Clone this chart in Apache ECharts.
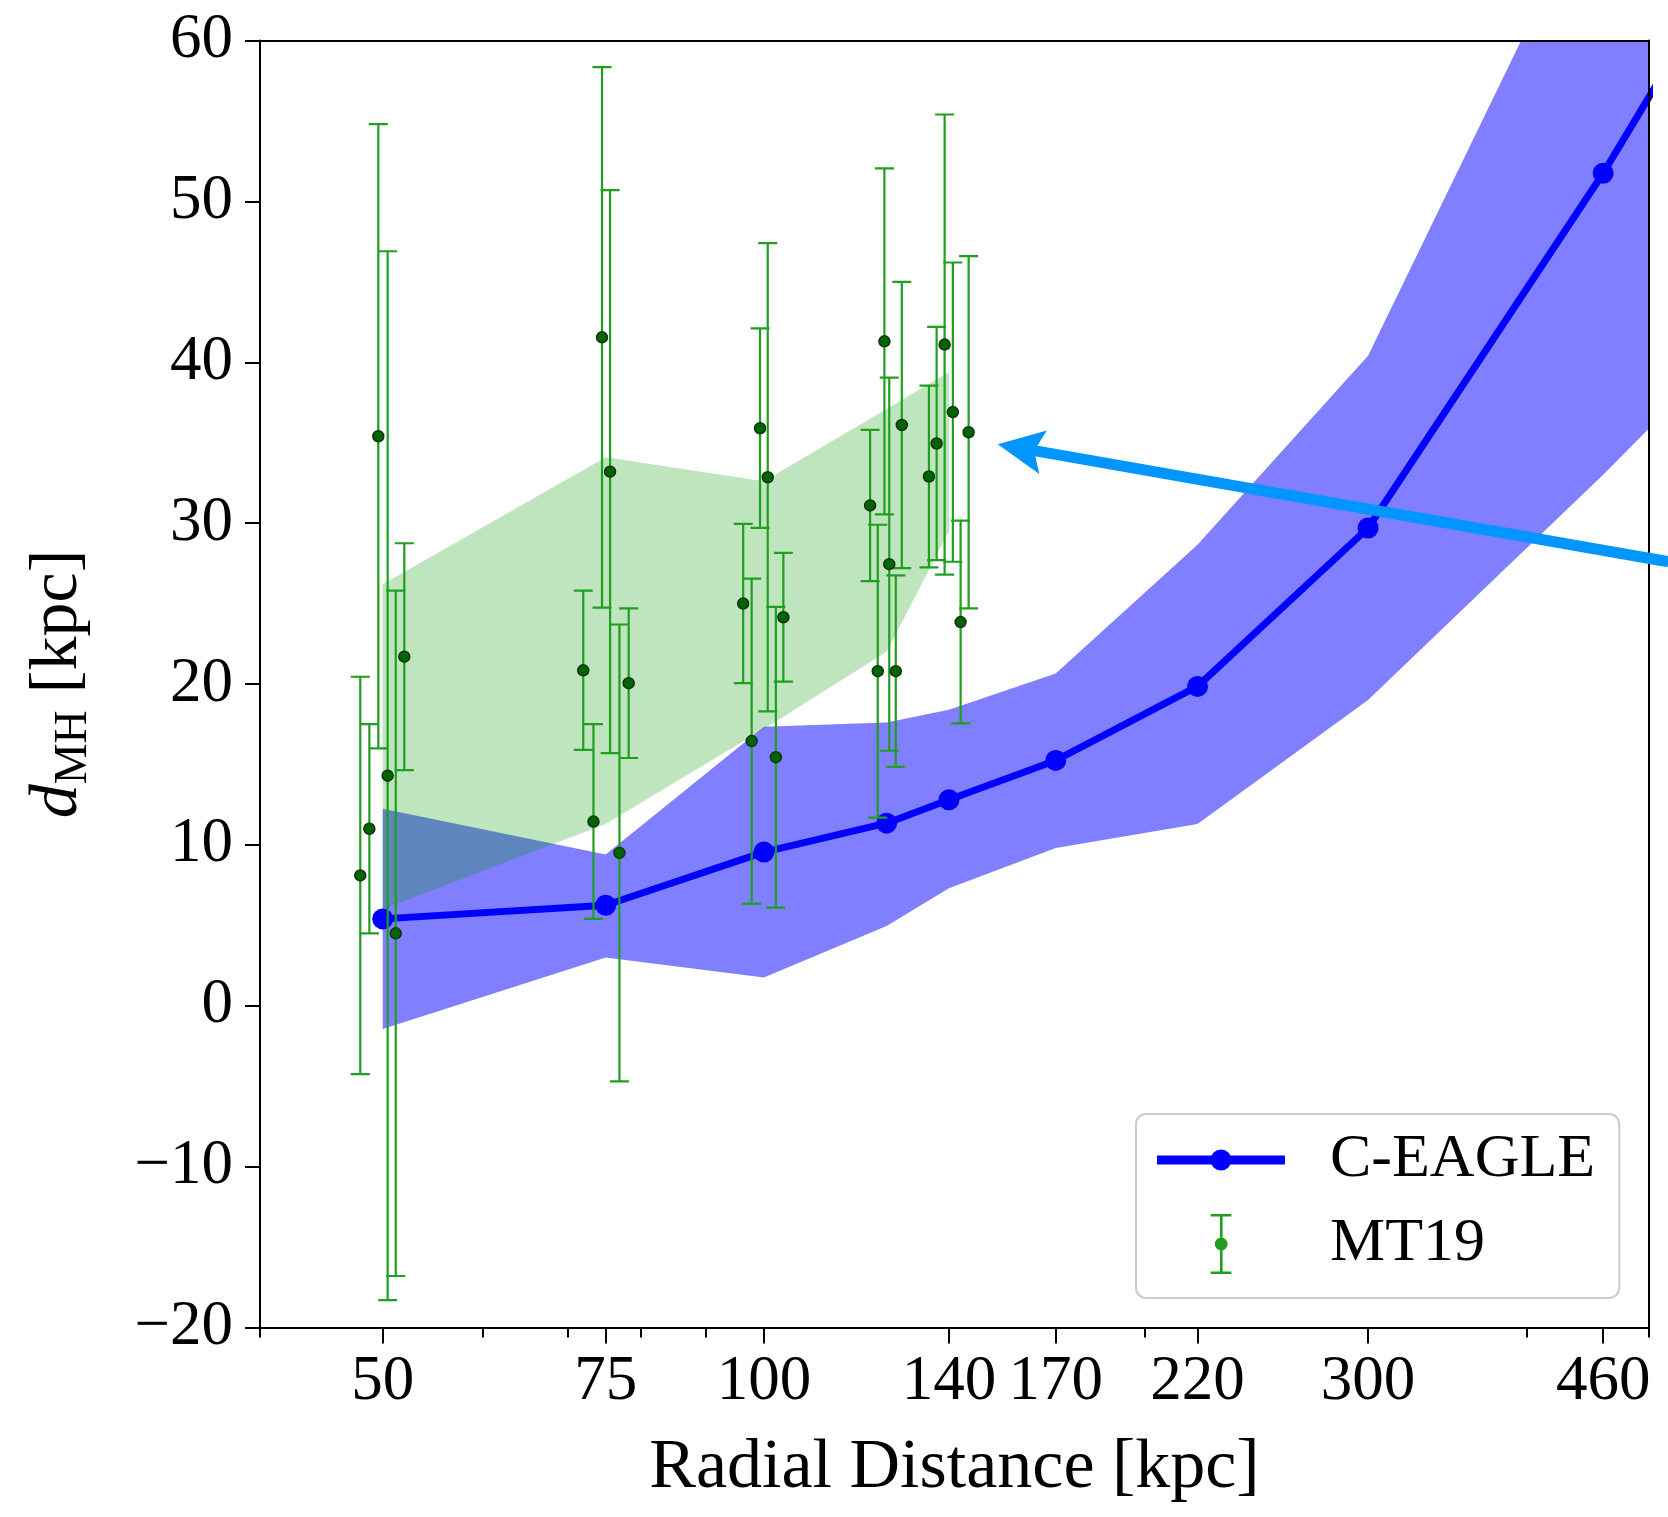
<!DOCTYPE html>
<html><head><meta charset="utf-8">
<script src="https://cdn.jsdelivr.net/npm/echarts@6/dist/echarts.min.js"></script>
<style>html,body{margin:0;padding:0;background:#fff}#c{width:1668px;height:1517px}</style>
</head><body><div id="c"></div>
<script>
// ---- axis ticks ----
const xTickLabels = [50, 75, 100, 140, 170, 220, 300, 460];
const xMinorTicks = [40, 60, 70, 80, 90, 200, 400, 500];
const yTicks = [-20, -10, 0, 10, 20, 30, 40, 50, 60];

// ---- C-EAGLE median line and band ----
const eagleX    = [50, 75, 100, 125, 140, 170, 220, 300, 460, 700];
const eagleY    = [5.4, 6.25, 9.55, 11.35, 12.8, 15.25, 19.85, 29.7, 51.75, 75.6];
const eagleLow  = [-1.45, 3.0, 1.75, 4.95, 7.3, 9.8, 11.3, 19.0, 33.0, 47.5];
const eagleHigh = [12.25, 9.4, 17.35, 17.6, 18.4, 20.65, 28.65, 40.4, 70.5, 100];

// ---- MT19 band ----
const mtBandX    = [50, 75, 100, 125, 140];
const mtBandLow  = [6.0, 11.3, 17.2, 22.0, 29.5];
const mtBandHigh = [26.2, 34.1, 32.6, 37.1, 39.4];

// ---- MT19 points with error bars ----
const mtX   = [48.0, 48.8, 49.6, 50.45, 51.2, 52.0, 72.0, 73.35, 74.5, 75.6, 76.9, 78.2, 96.3, 97.8, 99.3, 100.7, 102.2, 103.6, 121.3, 123.0, 124.5, 125.6, 127.1, 128.5, 135.0, 136.9, 138.9, 141.0, 143.0, 145.1];
const mtY   = [8.1, 11.0, 35.4, 14.3, 4.5, 21.7, 20.85, 11.45, 41.55, 33.2, 9.5, 20.05, 25.0, 16.45, 35.9, 32.85, 15.45, 24.15, 31.1, 20.8, 41.3, 27.45, 20.8, 36.1, 32.9, 34.95, 41.1, 36.9, 23.85, 35.65];
const mtErr = [12.35, 6.5, 19.4, 32.6, 21.3, 7.05, 4.95, 6.05, 16.8, 17.5, 14.2, 4.65, 4.95, 10.1, 6.2, 14.55, 9.35, 4.0, 4.7, 9.1, 10.75, 11.6, 5.95, 8.9, 5.65, 7.25, 14.3, 9.3, 6.3, 10.95];

// ---- annotation arrow (data coordinates) ----
const arrowTail = [518, 27.6];
const arrowHead = [153, 34.9];

const FONT = 'Liberation Serif';
const chart = echarts.init(document.getElementById('c'), null, {renderer: 'canvas'});

function bandRenderer(xs, lows, highs, fill) {
  return function (params, api) {
    if (params.dataIndex !== 0) return null;
    const pts = [];
    for (let i = 0; i < xs.length; i++) pts.push(api.coord([xs[i], highs[i]]));
    for (let i = xs.length - 1; i >= 0; i--) pts.push(api.coord([xs[i], lows[i]]));
    return { type: 'polygon', shape: { points: pts }, style: { fill: fill }, silent: true };
  };
}

const errColor = '#1f9e1f';
const logAxisBase = { type: 'log', logBase: 10, min: 40, max: 500, gridIndex: 0, z: 10 };

const option = {
  animation: false,
  backgroundColor: '#fff',
  grid: { left: 260, right: 19, top: 40.5, bottom: 189.5, containLabel: false },
  xAxis: [
    Object.assign({}, logAxisBase, {
      position: 'bottom',
      name: 'Radial Distance [kpc]', nameLocation: 'middle', nameGap: 106,
      nameTextStyle: { fontFamily: FONT, fontSize: 70, color: '#000' },
      axisLine: { show: true, onZero: false, lineStyle: { color: '#000', width: 2 } },
      axisTick: { show: true, inside: false, length: 16, customValues: xTickLabels, lineStyle: { color: '#000', width: 2 } },
      axisLabel: { show: true, customValues: xTickLabels, margin: 23, fontFamily: FONT, fontSize: 63, color: '#000', formatter: v => String(Math.round(v)) },
      splitLine: { show: false }, minorTick: { show: false }, minorSplitLine: { show: false }
    }),
    Object.assign({}, logAxisBase, {
      position: 'bottom',
      axisLine: { show: false, onZero: false },
      axisTick: { show: true, inside: false, length: 10, customValues: xMinorTicks, lineStyle: { color: '#000', width: 2 } },
      axisLabel: { show: false },
      splitLine: { show: false }
    }),
    Object.assign({}, logAxisBase, {
      position: 'top',
      axisLine: { show: true, onZero: false, lineStyle: { color: '#000', width: 2 } },
      axisTick: { show: false }, axisLabel: { show: false }, splitLine: { show: false }
    })
  ],
  yAxis: [
    {
      type: 'value', min: -20, max: 60, interval: 10, position: 'left', z: 10,
      name: '{d|d}{s|MH}{n| [kpc]}', nameLocation: 'middle', nameGap: 163,
      nameTextStyle: {
        color: '#000',
        rich: {
          d: { fontFamily: FONT, fontStyle: 'italic', fontSize: 68, lineHeight: 78, color: '#000' },
          s: { fontFamily: FONT, fontSize: 46, lineHeight: 46, verticalAlign: 'bottom', color: '#000' },
          n: { fontFamily: FONT, fontSize: 68, lineHeight: 78, color: '#000' }
        }
      },
      axisLine: { show: true, onZero: false, lineStyle: { color: '#000', width: 2 } },
      axisTick: { show: true, inside: false, length: 15, lineStyle: { color: '#000', width: 2 } },
      axisLabel: { margin: 27, fontFamily: FONT, fontSize: 63, color: '#000',
        formatter: v => (v < 0 ? '\u2212' + Math.abs(v) : String(v)) },
      splitLine: { show: false }
    },
    {
      type: 'value', min: -20, max: 60, interval: 10, position: 'right', z: 10,
      axisLine: { show: true, onZero: false, lineStyle: { color: '#000', width: 2 } },
      axisTick: { show: false }, axisLabel: { show: false }, splitLine: { show: false }
    }
  ],
  legend: {
    orient: 'vertical', left: 1136, top: 1114,
    itemWidth: 128, itemHeight: 60, itemGap: 20, symbolKeepAspect: true,
    padding: [14, 24, 22, 21],
    backgroundColor: 'rgba(255,255,255,0.8)', borderColor: '#cccccc', borderWidth: 2, borderRadius: 10,
    textStyle: { fontFamily: FONT, fontSize: 62, lineHeight: 64, color: '#000', padding: [0, 0, 0, 40] },
    data: [
      { name: 'C-EAGLE', icon: 'path://M0,15.5h128v9h-128z M53.5,20a10.5,10.5 0 1,1 21,0a10.5,10.5 0 1,1 -21,0z' },
      { name: 'MT19', icon: 'path://M0,0h20v2.5h-20z M9,0h2.5v58h-2.5z M0,55.5h20v2.5h-20z M4,29a6.2,6.2 0 1,1 12.4,0a6.2,6.2 0 1,1 -12.4,0z' }
    ]
  },
  series: [
    {
      name: 'C-EAGLE band', type: 'custom', clip: true, silent: true, z: 2,
      renderItem: bandRenderer(eagleX, eagleLow, eagleHigh, 'rgba(0,0,255,0.5)'),
      data: eagleX.map((x, i) => [x, eagleLow[i], eagleHigh[i]]),
      encode: { x: 0, y: [1, 2] }
    },
    {
      name: 'C-EAGLE', type: 'line', clip: true, z: 3,
      data: eagleX.map((x, i) => [x, eagleY[i]]),
      symbol: 'circle', symbolSize: 21, showSymbol: true,
      lineStyle: { color: '#0000ff', width: 7 },
      itemStyle: { color: '#0000ff', borderWidth: 0 }
    },
    {
      name: 'MT19 band', type: 'custom', clip: true, silent: true, z: 4,
      renderItem: bandRenderer(mtBandX, mtBandLow, mtBandHigh, 'rgba(0,150,0,0.25)'),
      data: mtBandX.map((x, i) => [x, mtBandLow[i], mtBandHigh[i]]),
      encode: { x: 0, y: [1, 2] }
    },
    {
      name: 'MT19', type: 'custom', clip: true, z: 5,
      itemStyle: { color: errColor },
      renderItem: function (params, api) {
        const x = api.value(0), y = api.value(1), e = api.value(2);
        const top = api.coord([x, y + e]), bot = api.coord([x, y - e]);
        const hw = 9.5;
        const st = { stroke: errColor, lineWidth: 2.2 };
        return { type: 'group', children: [
          { type: 'line', shape: { x1: top[0], y1: top[1], x2: bot[0], y2: bot[1] }, style: st },
          { type: 'line', shape: { x1: top[0] - hw, y1: top[1], x2: top[0] + hw, y2: top[1] }, style: st },
          { type: 'line', shape: { x1: bot[0] - hw, y1: bot[1], x2: bot[0] + hw, y2: bot[1] }, style: st }
        ]};
      },
      data: mtX.map((x, i) => [x, mtY[i], mtErr[i]]),
      encode: { x: 0, y: [1] }
    },
    {
      name: 'MT19', type: 'scatter', z: 6,
      data: mtX.map((x, i) => [x, mtY[i]]),
      symbol: 'circle', symbolSize: 11,
      itemStyle: { color: '#006400', borderColor: '#123312', borderWidth: 1.5, opacity: 1 }
    }
  ]
};
chart.setOption(option);

// annotation arrow, positioned through the chart's own coordinate conversion
const p1 = chart.convertToPixel({ xAxisIndex: 0, yAxisIndex: 0 }, arrowTail);
const p2 = chart.convertToPixel({ xAxisIndex: 0, yAxisIndex: 0 }, arrowHead);
const dx = p2[0] - p1[0], dy = p2[1] - p1[1];
const len = Math.sqrt(dx * dx + dy * dy);
const ux = dx / len, uy = dy / len, nx = -uy, ny = ux;
const L = 46, W = 22, N = 9;
const b1 = [p2[0] - ux * L + nx * W, p2[1] - uy * L + ny * W];
const b2 = [p2[0] - ux * L - nx * W, p2[1] - uy * L - ny * W];
const notch = [p2[0] - ux * (L - N), p2[1] - uy * (L - N)];
chart.setOption({
  graphic: [
    { type: 'line', z: 100, shape: { x1: p1[0], y1: p1[1], x2: notch[0], y2: notch[1] }, style: { stroke: '#0096ff', lineWidth: 11 } },
    { type: 'polygon', z: 101, shape: { points: [p2, b1, notch, b2] }, style: { fill: '#0096ff' } }
  ]
});
</script>
</body></html>
